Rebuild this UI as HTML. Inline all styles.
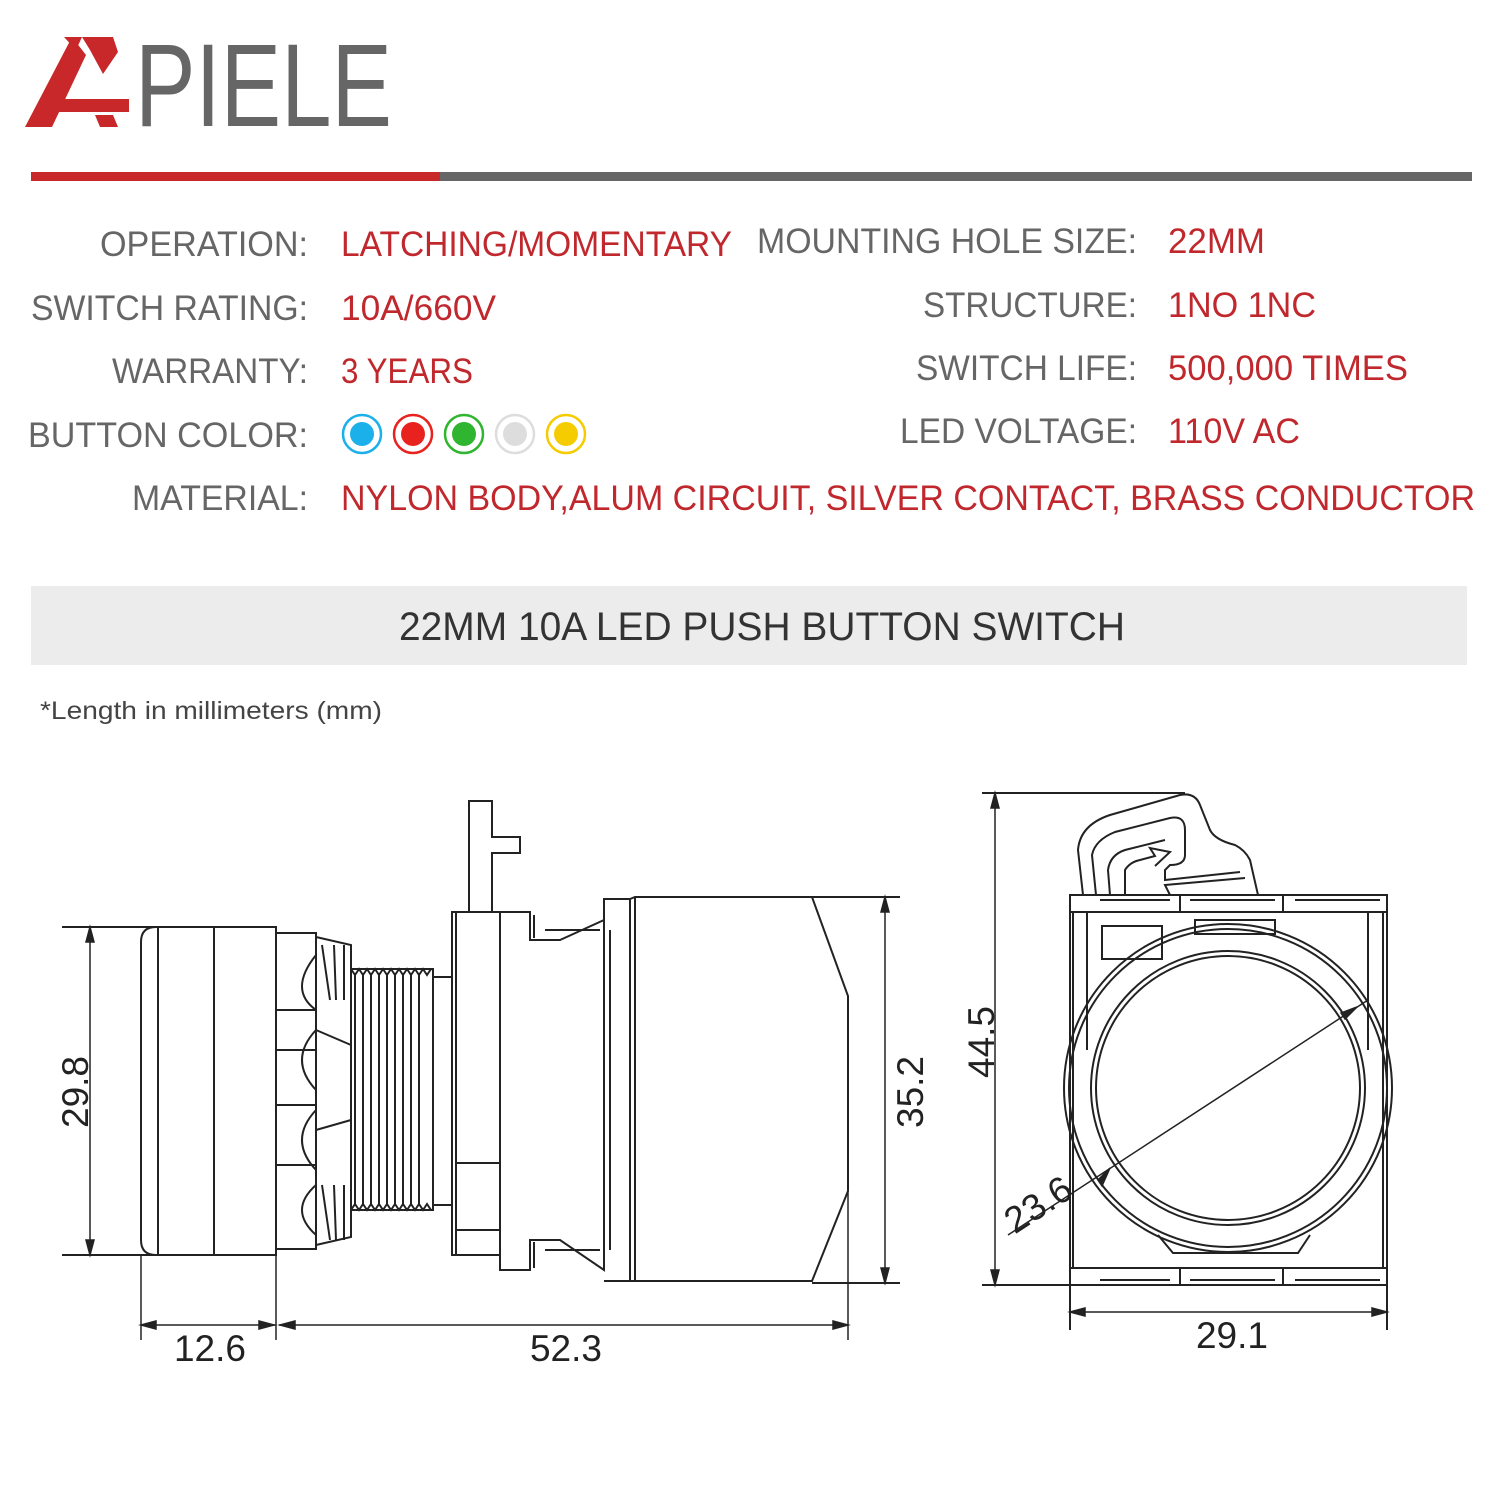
<!DOCTYPE html>
<html><head><meta charset="utf-8"><style>
html,body{margin:0;padding:0;background:#fff;}
svg{display:block}
.l{font-family:"Liberation Sans",sans-serif;font-size:35px;fill:#666}
.v{font-family:"Liberation Sans",sans-serif;font-size:35px;fill:#c0282d}
.d{font-family:"Liberation Sans",sans-serif;font-size:37px;fill:#222}
</style></head><body>
<svg width="1500" height="1500" viewBox="0 0 1500 1500" xmlns="http://www.w3.org/2000/svg">
<rect width="1500" height="1500" fill="#fff"/>
<!-- logo -->
<g fill="#c8282a">
<polygon points="25,127 52,127 86,55 72,37"/>
<polygon points="64,37 82,37 76,50"/>
<polygon points="82,37 113,37 118,52 103,74 90,50"/>
<polygon points="60,99 129,99 129,112 56,112"/>
<polygon points="95,115 113,115 118,127 100,127"/>
</g>
<text x="135" y="126" font-family="Liberation Sans, sans-serif" font-size="118" fill="#666" textLength="257" lengthAdjust="spacingAndGlyphs">PIELE</text>
<rect x="31" y="172" width="409" height="9" fill="#c8282a"/>
<rect x="440" y="172" width="1032" height="9" fill="#666"/>
<!-- specs -->
<g text-anchor="start">
<text class="l" x="100" y="256" textLength="208" lengthAdjust="spacingAndGlyphs">OPERATION:</text>
<text class="l" x="31" y="320" textLength="277" lengthAdjust="spacingAndGlyphs">SWITCH RATING:</text>
<text class="l" x="112" y="383" textLength="196" lengthAdjust="spacingAndGlyphs">WARRANTY:</text>
<text class="l" x="28" y="447" textLength="280" lengthAdjust="spacingAndGlyphs">BUTTON COLOR:</text>
<text class="l" x="132" y="510" textLength="176" lengthAdjust="spacingAndGlyphs">MATERIAL:</text>
<text class="v" x="341" y="256" textLength="391" lengthAdjust="spacingAndGlyphs">LATCHING/MOMENTARY</text>
<text class="v" x="341" y="320" textLength="155" lengthAdjust="spacingAndGlyphs">10A/660V</text>
<text class="v" x="341" y="383" textLength="132" lengthAdjust="spacingAndGlyphs">3 YEARS</text>
<text class="v" x="341" y="510" textLength="1134" lengthAdjust="spacingAndGlyphs">NYLON BODY,ALUM CIRCUIT, SILVER CONTACT, BRASS CONDUCTOR</text>
<text class="l" x="757" y="253" textLength="380" lengthAdjust="spacingAndGlyphs">MOUNTING HOLE SIZE:</text>
<text class="l" x="923" y="317" textLength="214" lengthAdjust="spacingAndGlyphs">STRUCTURE:</text>
<text class="l" x="916" y="380" textLength="221" lengthAdjust="spacingAndGlyphs">SWITCH LIFE:</text>
<text class="l" x="900" y="443" textLength="237" lengthAdjust="spacingAndGlyphs">LED VOLTAGE:</text>
<text class="v" x="1168" y="253" textLength="97" lengthAdjust="spacingAndGlyphs">22MM</text>
<text class="v" x="1168" y="317" textLength="148" lengthAdjust="spacingAndGlyphs">1NO 1NC</text>
<text class="v" x="1168" y="380" textLength="240" lengthAdjust="spacingAndGlyphs">500,000 TIMES</text>
<text class="v" x="1168" y="443" textLength="132" lengthAdjust="spacingAndGlyphs">110V AC</text>
</g>
<g stroke-width="2.5">
<circle cx="362" cy="434" r="19" fill="#fff" stroke="#1cb0ea"/><circle cx="362" cy="434" r="12" fill="#1cb0ea"/>
<circle cx="413" cy="434" r="19" fill="#fff" stroke="#e8231f"/><circle cx="413" cy="434" r="12" fill="#e8231f"/>
<circle cx="464" cy="434" r="19" fill="#fff" stroke="#2fb52f"/><circle cx="464" cy="434" r="12" fill="#2fb52f"/>
<circle cx="515" cy="434" r="19" fill="#fff" stroke="#ddd"/><circle cx="515" cy="434" r="12" fill="#ddd"/>
<circle cx="566" cy="434" r="19" fill="#fff" stroke="#f5cc00"/><circle cx="566" cy="434" r="12" fill="#f5cc00"/>
</g>
<rect x="31" y="586" width="1436" height="79" fill="#ececec"/>
<text x="762" y="640" text-anchor="middle" font-family="Liberation Sans, sans-serif" font-size="40" fill="#333" textLength="726" lengthAdjust="spacingAndGlyphs">22MM  10A LED PUSH BUTTON SWITCH</text>
<text x="40" y="719" font-family="Liberation Sans, sans-serif" font-size="25" fill="#444" textLength="342" lengthAdjust="spacingAndGlyphs">*Length in millimeters (mm)</text>

<!-- left drawing -->
<g fill="none" stroke="#222" stroke-width="2">
<path d="M156,927 L276,927 L276,1255 L156,1255 Q141,1255 141,1240 L141,942 Q141,927 156,927 Z"/>
<line x1="158" y1="928" x2="158" y2="1254"/>
<line x1="214" y1="928" x2="214" y2="1254"/>
<line x1="62" y1="927" x2="276" y2="927"/>
<line x1="62" y1="1255" x2="276" y2="1255"/>
<rect x="276" y="933" width="40" height="316"/>
<path d="M316,937 L351,945 L351,1237 L316,1245"/>
<path d="M316,955 Q288,990 316,1010 M316,1030 Q288,1060 316,1090 M316,1110 Q288,1140 316,1170 M316,1185 Q288,1210 316,1235"/>
<line x1="276" y1="1010" x2="316" y2="1010"/><line x1="276" y1="1050" x2="316" y2="1050"/><line x1="276" y1="1105" x2="316" y2="1105"/><line x1="276" y1="1165" x2="316" y2="1165"/>
<path d="M322,945 L330,1000 M334,945 L336,1000 M344,945 L344,1000 M322,1185 L330,1240 M334,1185 L336,1240 M344,1185 L344,1240 M316,1030 L351,1045 M316,1130 L351,1120"/>
<rect x="351" y="969" width="82" height="241"/>
<path d="M351,969 l4,6 l4,-6 l4,6 l4,-6 l4,6 l4,-6 l4,6 l4,-6 l4,6 l4,-6 l4,6 l4,-6 l4,6 l4,-6 l4,6 l4,-6 l4,6 l4,-6 l4,6 l4,-6"/>
<path d="M351,1210 l4,-6 l4,6 l4,-6 l4,6 l4,-6 l4,6 l4,-6 l4,6 l4,-6 l4,6 l4,-6 l4,6 l4,-6 l4,6 l4,-6 l4,6 l4,-6 l4,6 l4,-6 l4,6"/>
<line x1="355" y1="975" x2="355" y2="1204"/><line x1="363" y1="975" x2="363" y2="1204"/><line x1="371" y1="975" x2="371" y2="1204"/><line x1="379" y1="975" x2="379" y2="1204"/><line x1="387" y1="975" x2="387" y2="1204"/><line x1="395" y1="975" x2="395" y2="1204"/><line x1="403" y1="975" x2="403" y2="1204"/><line x1="411" y1="975" x2="411" y2="1204"/><line x1="419" y1="975" x2="419" y2="1204"/>
<rect x="433" y="977" width="19" height="228"/>
<rect x="452" y="912" width="48" height="343"/>
<line x1="456" y1="912" x2="456" y2="1255"/>
<path d="M469,912 L469,801 L492,801 L492,837 L520,837 L520,853 L492,853 L492,912"/>
<path d="M455,1163 L500,1163 M455,1230 L500,1230"/>
<path d="M500,912 L500,1270 L530,1270 L530,1240 L560,1240 L604,1270 L604,899"/>
<path d="M500,912 L530,912 L530,940 L560,940 L604,920 L604,899 L630,899 L630,1281 L604,1281"/>
<path d="M534,915 L534,938 M545,930 L600,930 M534,1242 L534,1268 M545,1250 L600,1250"/>
<line x1="604" y1="930" x2="604" y2="1250"/>
<line x1="610" y1="930" x2="610" y2="1250"/>
<path d="M630,899 L635,897 L812,897 L848,996 L848,1191 L812,1281 L635,1281 L630,1281"/>
<line x1="635" y1="897" x2="635" y2="1281"/>
<line x1="812" y1="897" x2="900" y2="897"/>
<line x1="812" y1="1283" x2="900" y2="1283"/>
</g>
<g stroke="#222" stroke-width="1.5" fill="#222">
<line x1="90" y1="927" x2="90" y2="1255"/>
<polygon points="90,927 86,942 94,942"/><polygon points="90,1255 86,1240 94,1240"/>
<line x1="885" y1="897" x2="885" y2="1283"/>
<polygon points="885,897 881,912 889,912"/><polygon points="885,1283 881,1268 889,1268"/>
<line x1="141" y1="1255" x2="141" y2="1340"/>
<line x1="276" y1="1255" x2="276" y2="1340"/>
<line x1="848" y1="1191" x2="848" y2="1340"/>
<line x1="141" y1="1325" x2="276" y2="1325"/>
<line x1="279" y1="1325" x2="848" y2="1325"/>
<polygon points="141,1325 156,1321 156,1329"/><polygon points="274,1325 259,1321 259,1329"/>
<polygon points="280,1325 295,1321 295,1329"/><polygon points="848,1325 833,1321 833,1329"/>
</g>
<text class="d" x="210" y="1361" text-anchor="middle">12.6</text>
<text class="d" x="566" y="1361" text-anchor="middle">52.3</text>
<text class="d" transform="translate(88,1092) rotate(-90)" text-anchor="middle">29.8</text>
<text class="d" transform="translate(923,1092) rotate(-90)" text-anchor="middle">35.2</text>

<!-- right drawing -->
<g fill="none" stroke="#222" stroke-width="2">
<path d="M1083,895 L1078,850 Q1080,825 1110,815 L1180,795 Q1195,792 1200,805 L1210,830 Q1215,840 1235,845 Q1245,850 1250,860 L1258,895"/>
<path d="M1096,895 L1092,855 Q1095,840 1115,832 L1170,818 Q1185,815 1185,830 L1185,855 Q1185,865 1170,865 L1165,870 L1165,880 L1240,872"/>
<path d="M1110,895 L1108,870 Q1110,855 1125,850 L1165,840 M1125,895 L1125,870 Q1130,862 1140,860 L1155,856 L1150,848 L1170,852 L1155,866"/>
<path d="M1170,895 L1165,885 L1245,878"/>
<rect x="1070" y="895" width="317" height="390"/>
<path d="M1070,912 L1387,912 M1070,1268 L1387,1268"/>
<path d="M1180,895 L1180,912 M1283,895 L1283,912 M1180,1268 L1180,1285 M1283,1268 L1283,1285 M1100,900 L1170,900 M1190,900 L1275,900 M1295,900 L1380,900 M1100,1280 L1170,1280 M1190,1280 L1275,1280 M1295,1280 L1380,1280"/>
<line x1="1073" y1="912" x2="1073" y2="1268"/>
<line x1="1087" y1="912" x2="1087" y2="1050"/>
<line x1="1368" y1="912" x2="1368" y2="1050"/>
<line x1="1383" y1="912" x2="1383" y2="1268"/>
<rect x="1102" y="926" width="60" height="33"/>
<rect x="1195" y="920" width="80" height="14"/>
<path d="M1158,1235 L1173,1253 L1298,1253 L1310,1235"/>
<circle cx="1228" cy="1088" r="164"/>
<circle cx="1228" cy="1088" r="159"/>
<circle cx="1228" cy="1088" r="137"/>
<circle cx="1228" cy="1088" r="132"/>
<line x1="982" y1="793" x2="1185" y2="793"/>
<line x1="982" y1="1285" x2="1070" y2="1285"/>
<line x1="1070" y1="1285" x2="1070" y2="1330"/>
<line x1="1387" y1="1285" x2="1387" y2="1330"/>
</g>
<g stroke="#222" stroke-width="1.5" fill="#222">
<line x1="1008" y1="1235" x2="1368" y2="1000"/>
<polygon points="1110,1168 1098,1180 1102,1186"/>
<polygon points="1357,1007 1345,1019 1341,1013"/>
<line x1="995" y1="793" x2="995" y2="1285"/>
<polygon points="995,793 991,808 999,808"/><polygon points="995,1285 991,1270 999,1270"/>
<line x1="1070" y1="1312" x2="1387" y2="1312"/>
<polygon points="1070,1312 1085,1308 1085,1316"/><polygon points="1387,1312 1372,1308 1372,1316"/>
</g>
<text class="d" x="1232" y="1348" text-anchor="middle">29.1</text>
<text class="d" transform="translate(994,1042) rotate(-90)" text-anchor="middle">44.5</text>
<text class="d" transform="translate(1045,1215) rotate(-33)" text-anchor="middle">23.6</text>
</svg>
</body></html>
